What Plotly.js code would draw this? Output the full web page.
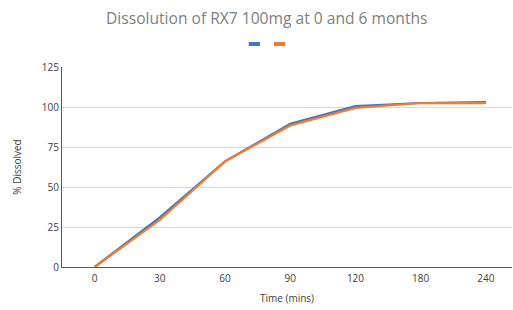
<!DOCTYPE html>
<html>
<head>
<meta charset="utf-8">
<script src="https://cdn.plot.ly/plotly-3.0.1.min.js"></script>
<style>html,body{margin:0;padding:0;background:#fff;}#chart{width:513px;height:310px;}</style>
</head>
<body>
<div id="chart"></div>
<script>
const categories = ["0", "30", "60", "90", "120", "180", "240"];
const month0 = [0, 31, 66, 89.5, 100.5, 102.5, 103];
const month6 = [0, 29.5, 66, 88.5, 99.5, 102.5, 102.5];
const yTicks = [0, 25, 50, 75, 100, 125];

const blue = "#4472C4", orange = "#ED7D31";

const traces = [
  {x: categories, y: month0, type: "scatter", mode: "lines", line: {color: blue, width: 2.25}, showlegend: false, hoverinfo: "skip"},
  {x: categories, y: month6, type: "scatter", mode: "lines", line: {color: orange, width: 2.25}, showlegend: false, hoverinfo: "skip"},
  {x: [null], y: [null], type: "scatter", mode: "markers", name: " ", legend: "legend", marker: {symbol: "line-ew-open", size: 8, color: blue, line: {color: blue, width: 4}}, showlegend: true},
  {x: [null], y: [null], type: "scatter", mode: "markers", name: " ", legend: "legend2", marker: {symbol: "line-ew-open", size: 8, color: orange, line: {color: orange, width: 4}}, showlegend: true}
];

const legendBase = {orientation: "h", xanchor: "left", y: 1.115, yanchor: "middle", font: {size: 9}, bgcolor: "rgba(0,0,0,0)"};

const layout = {
  width: 513, height: 310,
  margin: {l: 62.4, r: 1, t: 67, b: 43},
  paper_bgcolor: "#fff", plot_bgcolor: "#fff",
  font: {family: "Open Sans, Liberation Sans, sans-serif", color: "#595959", size: 10},
  title: {text: "Dissolution of RX7 100mg at 0 and 6 months", font: {size: 15.6, color: "#808080"}, x: 0.52, xanchor: "center", y: 0.94, yanchor: "middle"},
  showlegend: true,
  legend: Object.assign({}, legendBase, {x: 0.383}),
  legend2: Object.assign({}, legendBase, {x: 0.439}),
  xaxis: {
    type: "category", range: [-0.5, 6.4],
    showgrid: false, showline: true, linecolor: "#595959", linewidth: 1,
    ticks: "", tickfont: {size: 10, color: "#404040"}, ticklabelstandoff: 2,
    title: {text: "Time (mins)", font: {size: 10, color: "#404040"}, standoff: 10},
    fixedrange: true
  },
  yaxis: {
    range: [0, 125], tickvals: yTicks, ticktext: yTicks.map(String),
    showgrid: true, gridcolor: "#d9d9d9", gridwidth: 1,
    showline: true, linecolor: "#595959", linewidth: 1, zeroline: false,
    ticks: "", tickfont: {size: 10, color: "#404040"},
    title: {text: "% Dissolved", font: {size: 10, color: "#404040"}, standoff: 18},
    fixedrange: true
  }
};

Plotly.newPlot("chart", traces, layout, {displayModeBar: false, staticPlot: true});
</script>
</body>
</html>
